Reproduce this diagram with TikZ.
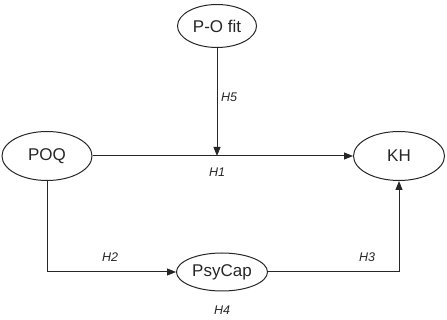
\documentclass[tikz,border=0pt]{standalone}
\usepackage{fontspec}
\setmainfont{Liberation Sans}
\usetikzlibrary{arrows.meta,shapes.geometric}
\begin{document}
\begin{tikzpicture}[x=1pt,y=-1pt,
  var/.style={draw=black!85,line width=1pt,ellipse,inner sep=0pt,font=\fontsize{17}{20}\selectfont,text=black!85},
  conn/.style={draw=black!85,line width=1pt,-{Triangle[length=9pt,width=7pt]}},
  hyp/.style={font=\itshape\fontsize{12.5}{15}\selectfont,text=black!85}]
\useasboundingbox (0,0) rectangle (447,320);
\node[var,minimum width=79pt,minimum height=43pt] (pof) at (217,26) {P-O fit};
\node[var,minimum width=90pt,minimum height=49pt] (poq) at (47,156) {POQ};
\node[var,minimum width=91pt,minimum height=49pt] (kh) at (399,156) {KH};
\node[var,minimum width=91pt,minimum height=38pt] (psy) at (222,272) {PsyCap};
\coordinate (mid) at (pof.south |- poq.east);
\draw[conn] (poq.east) -- (kh.west);
\draw[conn] (pof.south) -- (mid);
\draw[conn] (poq.south) |- (psy.west);
\draw[conn] (psy.east) -| (kh.south);
\node[hyp] (h5) at (229,97) {H5};
\node[hyp] (h1) at (217,172) {H1};
\node[hyp] (h2) at (110,257) {H2};
\node[hyp] (h3) at (367,257) {H3};
\node[hyp] (h4) at (222,310) {H4};
\end{tikzpicture}
\end{document}
